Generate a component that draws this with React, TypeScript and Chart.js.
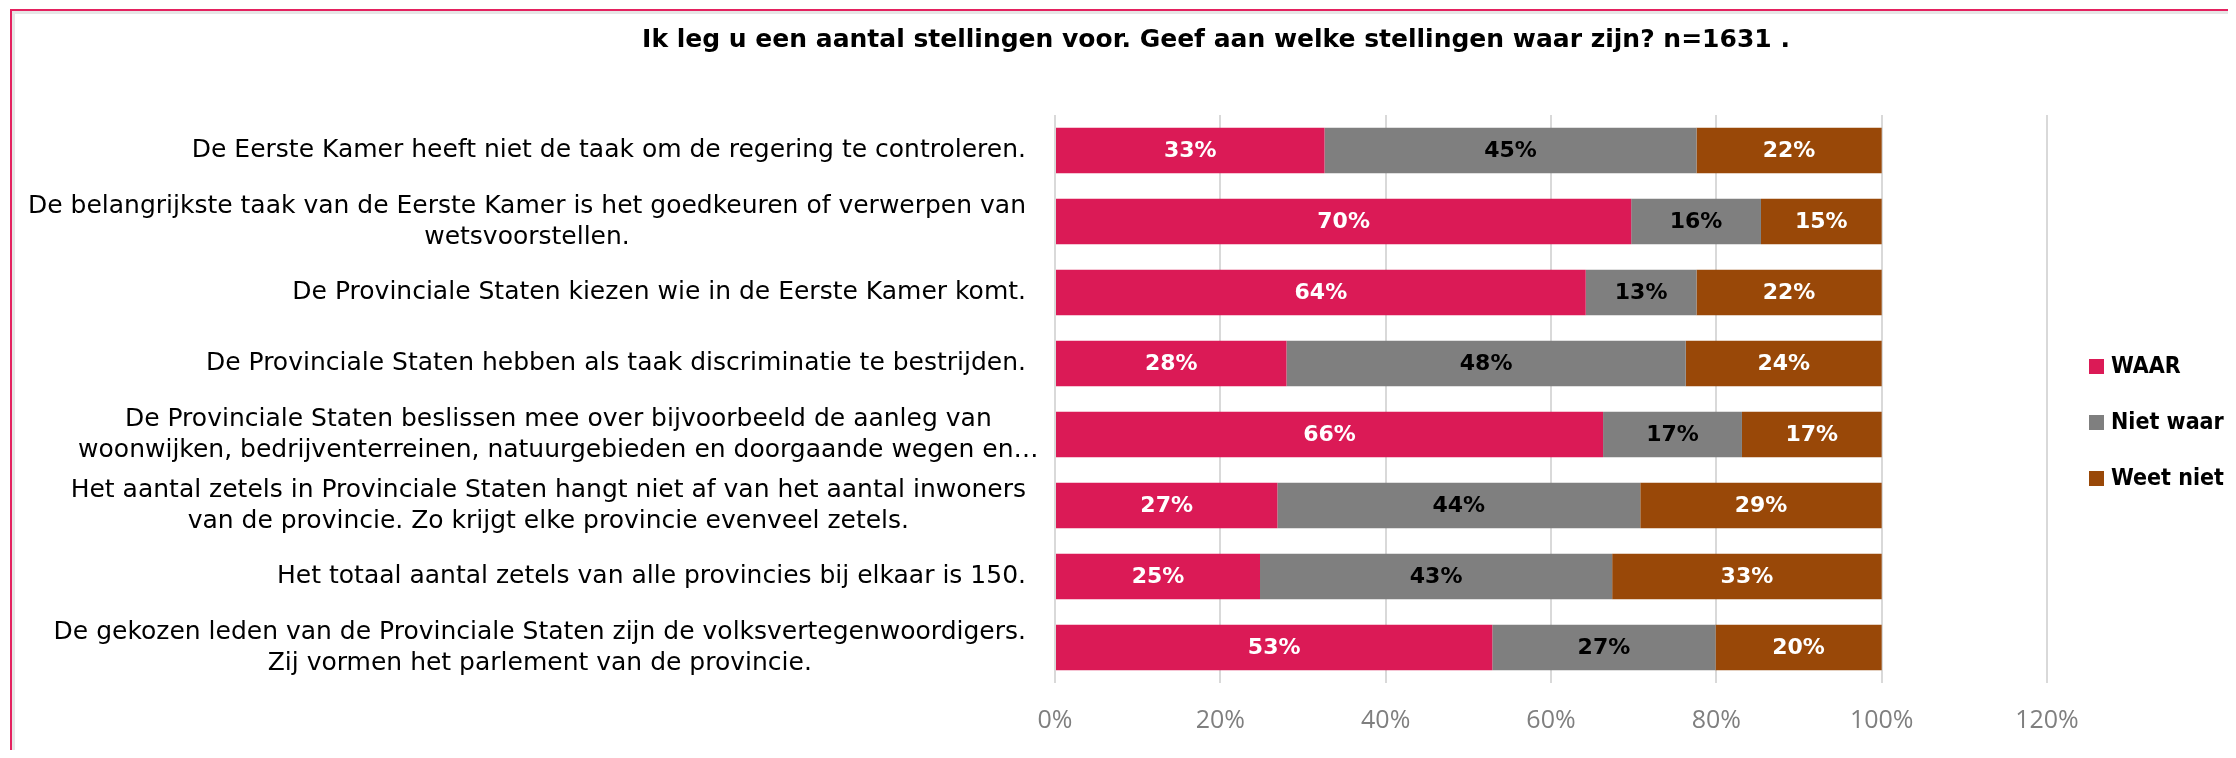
import React, { useEffect, useRef } from 'react';
import { Chart, registerables } from 'chart.js';

Chart.register(...registerables);

const TITLE = 'Ik leg u een aantal stellingen voor. Geef aan welke stellingen waar zijn? n=1631 .';

const categories: string[][] = [
  ['De Eerste Kamer heeft niet de taak om de regering te controleren.'],
  ['De belangrijkste taak van de Eerste Kamer is het goedkeuren of verwerpen van', 'wetsvoorstellen.'],
  ['De Provinciale Staten kiezen wie in de Eerste Kamer komt.'],
  ['De Provinciale Staten hebben als taak discriminatie te bestrijden.'],
  ['De Provinciale Staten beslissen mee over bijvoorbeeld de aanleg van', 'woonwijken, bedrijventerreinen, natuurgebieden en doorgaande wegen en…'],
  ['Het aantal zetels in Provinciale Staten hangt niet af van het aantal inwoners', 'van de provincie. Zo krijgt elke provincie evenveel zetels.'],
  ['Het totaal aantal zetels van alle provincies bij elkaar is 150.'],
  ['De gekozen leden van de Provinciale Staten zijn de volksvertegenwoordigers.', 'Zij vormen het parlement van de provincie.'],
];

const waar = [32.6, 69.7, 64.2, 28.0, 66.3, 26.9, 24.8, 52.9];
const nietWaar = [45.0, 15.7, 13.4, 48.3, 16.8, 43.9, 42.6, 27.0];
const weetNiet = [22.4, 14.6, 22.4, 23.7, 16.9, 29.2, 32.6, 20.1];

const seriesNames = ['WAAR', 'Niet waar', 'Weet niet'];
const seriesColors = ['#DB1A56', '#7F7F7F', '#994808'];
const valueLabelColors = ['#FFFFFF', '#000000', '#FFFFFF'];

const xMin = 0;
const xMax = 120;
const xStep = 20;

const FONT = '"DejaVu Sans", "Liberation Sans", sans-serif';
const TICK_FONT = '"Open Sans", "DejaVu Sans", sans-serif';
const LEGEND_FONT = '"DejaVu Sans Condensed", "DejaVu Sans", sans-serif';

const overlayPlugin = {
  id: 'overlay',
  afterDatasetsDraw(chart: any) {
    const ctx = chart.ctx;
    ctx.save();
    ctx.font = `bold 22px ${FONT}`;
    ctx.textAlign = 'center';
    ctx.textBaseline = 'middle';
    chart.data.datasets.forEach((ds: any, di: number) => {
      const meta = chart.getDatasetMeta(di);
      meta.data.forEach((el: any, i: number) => {
        const p = el.getProps(['x', 'y', 'base'], true);
        ctx.fillStyle = valueLabelColors[di];
        ctx.fillText(Math.round(ds.data[i]) + '%', (p.x + p.base) / 2, p.y + 1);
      });
    });
    ctx.restore();
  },
  afterDraw(chart: any) {
    const ctx = chart.ctx;
    const area = chart.chartArea;
    ctx.save();

    // Title
    ctx.fillStyle = '#000000';
    ctx.font = `bold 25px ${FONT}`;
    ctx.textAlign = 'center';
    ctx.textBaseline = 'middle';
    ctx.fillText(TITLE, chart.width / 2, 32);

    // Category labels (right-aligned block, lines centred within block)
    const yScale = chart.scales.y;
    ctx.font = `25px ${FONT}`;
    const right = area.left - 29;
    const lineH = 31;
    categories.forEach((lines, i) => {
      const yc = yScale.getPixelForValue(i);
      const widest = Math.max(...lines.map((l) => ctx.measureText(l.replace(/…$/, '')).width));
      const cx = right - widest / 2;
      lines.forEach((line, j) => {
        const y = yc + (j - (lines.length - 1) / 2) * lineH;
        ctx.fillText(line, cx, y);
      });
    });

    // Legend
    let size = 23;
    ctx.font = `bold ${size}px ${LEGEND_FONT}`;
    const widestLegend = Math.max(...chart.data.datasets.map((d: any) => ctx.measureText(d.label).width));
    if (widestLegend > 118) {
      size = Math.floor((size * 118) / widestLegend * 10) / 10;
      ctx.font = `bold ${size}px ${LEGEND_FONT}`;
    }
    ctx.textAlign = 'left';
    const lx = 2081;
    const ly0 = 358.5;
    const step = 56;
    chart.data.datasets.forEach((ds: any, di: number) => {
      const y = ly0 + di * step;
      ctx.fillStyle = ds.backgroundColor;
      ctx.fillRect(lx, y - 7.5, 15, 15);
      ctx.fillStyle = '#000000';
      ctx.fillText(ds.label, lx + 22, y + 1);
    });

    ctx.restore();
  },
};

export default function App() {
  const canvasRef = useRef<HTMLCanvasElement | null>(null);

  useEffect(() => {
    const canvas = canvasRef.current;
    if (!canvas) return;
    const chart = new Chart(canvas, {
      type: 'bar',
      data: {
        labels: categories.map((c) => c.join(' ')),
        datasets: [
          { label: seriesNames[0], data: waar, backgroundColor: seriesColors[0] },
          { label: seriesNames[1], data: nietWaar, backgroundColor: seriesColors[1] },
          { label: seriesNames[2], data: weetNiet, backgroundColor: seriesColors[2] },
        ],
      },
      options: {
        indexAxis: 'y',
        responsive: false,
        animation: false,
        devicePixelRatio: 1,
        layout: { padding: { left: 1047, right: 377, top: 107, bottom: 0 } },
        datasets: { bar: { categoryPercentage: 0.64, barPercentage: 1 } },
        plugins: {
          legend: { display: false },
          title: { display: false },
          tooltip: { enabled: false },
        },
        scales: {
          x: {
            stacked: true,
            min: xMin,
            max: xMax,
            ticks: {
              stepSize: xStep,
              padding: 23,
              color: '#7F7F7F',
              font: { family: TICK_FONT, size: 25 },
              callback: (v: any) => v + '%',
            },
            grid: { color: '#D9D9D9', lineWidth: 2, drawTicks: false },
            border: { display: false },
            afterFit: (scale: any) => {
              scale.height = 75;
            },
          },
          y: {
            stacked: true,
            display: false,
          },
        },
      },
      plugins: [overlayPlugin],
    } as any);
    return () => chart.destroy();
  }, []);

  return (
    <div style={{ position: 'relative', width: 2228, height: 742, overflow: 'hidden', background: '#fff' }}>
      <div
        style={{
          position: 'absolute',
          left: 2,
          top: 1,
          width: 3000,
          height: 2000,
          borderLeft: '2px solid #E4215F',
          borderTop: '2px solid #E4215F',
        }}
      >
        <div
          style={{
            width: '100%',
            height: '100%',
            borderLeft: '3px solid #E6E6E6',
            borderTop: '3px solid #E6E6E6',
          }}
        />
      </div>
      <canvas
        ref={canvasRef}
        width={2416}
        height={750}
        style={{ position: 'absolute', left: 0, top: 0, width: 2416, height: 750 }}
      />
    </div>
  );
}
